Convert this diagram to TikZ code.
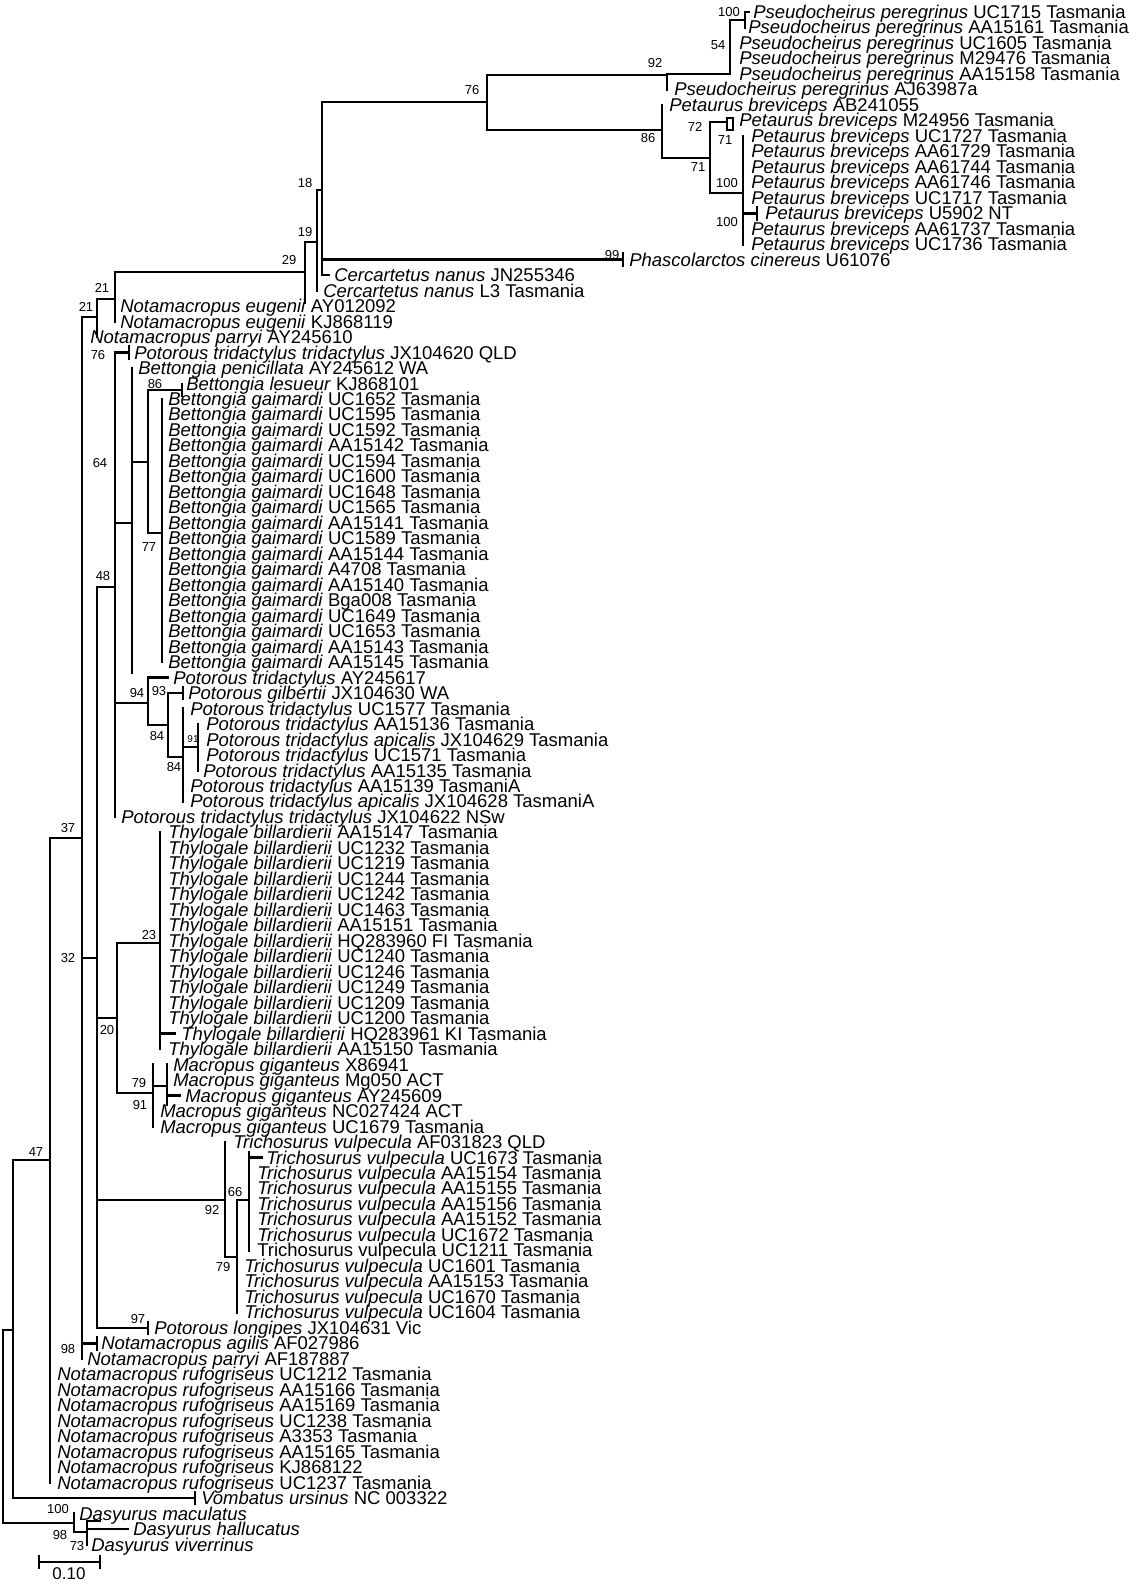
\documentclass[tikz,border=0pt]{standalone}
\usepackage{fontspec}
\setmainfont{Liberation Sans}
\newcommand\ry[1]{-3.48+#1*15.48}% row of leaf #1
\newcommand\lf[4]{\node[leaf] (l#1) at (#2,\ry{#1}) {\textit{#3} #4};}
\newcommand\tk[2]{\draw (#1,#2-6) -- (#1,#2+6);}
\tikzset{
  leaf/.style={anchor=base west,inner sep=0pt,yshift=-6.5pt,font=\fontsize{18.5}{18}\selectfont},
  bs/.style={inner sep=0pt,font=\fontsize{13}{13}\selectfont},
}
\begin{document}
\begin{tikzpicture}[x=1pt,y=-1pt,line width=2.6pt,line cap=rect]
  \useasboundingbox (0,0) rectangle (1148,1585);
  % leaves
  \lf{1}{752}{Pseudocheirus peregrinus}{UC1715 Tasmania}
  \lf{2}{747}{Pseudocheirus peregrinus}{AA15161 Tasmania}
  \lf{3}{738}{Pseudocheirus peregrinus}{UC1605 Tasmania}
  \lf{4}{738}{Pseudocheirus peregrinus}{M29476 Tasmania}
  \lf{5}{738}{Pseudocheirus peregrinus}{AA15158 Tasmania}
  \lf{6}{673}{Pseudocheirus peregrinus}{AJ63987a}
  \lf{7}{668}{Petaurus breviceps}{AB241055}
  \lf{8}{738}{Petaurus breviceps}{M24956 Tasmania}
  \lf{9}{750}{Petaurus breviceps}{UC1727 Tasmania}
  \lf{10}{750}{Petaurus breviceps}{AA61729 Tasmania}
  \lf{11}{750}{Petaurus breviceps}{AA61744 Tasmania}
  \lf{12}{750}{Petaurus breviceps}{AA61746 Tasmania}
  \lf{13}{750}{Petaurus breviceps}{UC1717 Tasmania}
  \lf{14}{764}{Petaurus breviceps}{U5902 NT}
  \lf{15}{750}{Petaurus breviceps}{AA61737 Tasmania}
  \lf{16}{750}{Petaurus breviceps}{UC1736 Tasmania}
  \lf{17}{628}{Phascolarctos cinereus}{U61076}
  \lf{18}{333}{Cercartetus nanus}{JN255346}
  \lf{19}{322}{Cercartetus nanus}{L3 Tasmania}
  \lf{20}{119}{Notamacropus eugenii}{AY012092}
  \lf{21}{119}{Notamacropus eugenii}{KJ868119}
  \lf{22}{89}{Notamacropus parryi}{AY245610}
  \lf{23}{133}{Potorous tridactylus tridactylus}{JX104620 QLD}
  \lf{24}{137}{Bettongia penicillata}{AY245612 WA}
  \lf{25}{185}{Bettongia lesueur}{KJ868101}
  \foreach \c [count=\i from 26] in {UC1652,UC1595,UC1592,AA15142,UC1594,UC1600,UC1648,UC1565,AA15141,UC1589,AA15144,A4708,AA15140,Bga008,UC1649,UC1653,AA15143,AA15145}
    {\lf{\i}{167}{Bettongia gaimardi}{\c\ Tasmania}}
  \lf{44}{172}{Potorous tridactylus}{AY245617}
  \lf{45}{187}{Potorous gilbertii}{JX104630 WA}
  \lf{46}{189}{Potorous tridactylus}{UC1577 Tasmania}
  \lf{47}{205}{Potorous tridactylus}{AA15136 Tasmania}
  \lf{48}{205}{Potorous tridactylus apicalis}{JX104629 Tasmania}
  \lf{49}{205}{Potorous tridactylus}{UC1571 Tasmania}
  \lf{50}{202}{Potorous tridactylus}{AA15135 Tasmania}
  \lf{51}{189}{Potorous tridactylus}{AA15139 TasmaniA}
  \lf{52}{189}{Potorous tridactylus apicalis}{JX104628 TasmaniA}
  \lf{53}{120}{Potorous tridactylus tridactylus}{JX104622 NSw}
  \foreach \c [count=\i from 54] in {AA15147 Tasmania,UC1232 Tasmania,UC1219 Tasmania,UC1244 Tasmania,UC1242 Tasmania,UC1463 Tasmania,AA15151 Tasmania,HQ283960 FI Tasmania,UC1240 Tasmania,UC1246 Tasmania,UC1249 Tasmania,UC1209 Tasmania,UC1200 Tasmania}
    {\lf{\i}{167}{Thylogale billardierii}{\c}}
  \lf{67}{180}{Thylogale billardierii}{HQ283961 KI Tasmania}
  \lf{68}{167}{Thylogale billardierii}{AA15150 Tasmania}
  \lf{69}{172}{Macropus giganteus}{X86941}
  \lf{70}{172}{Macropus giganteus}{Mg050 ACT}
  \lf{71}{184}{Macropus giganteus}{AY245609}
  \lf{72}{159}{Macropus giganteus}{NC027424 ACT}
  \lf{73}{159}{Macropus giganteus}{UC1679 Tasmania}
  \lf{74}{232}{Trichosurus vulpecula}{AF031823 QLD}
  \lf{75}{265}{Trichosurus vulpecula}{UC1673 Tasmania}
  \foreach \c [count=\i from 76] in {AA15154,AA15155,AA15156,AA15152,UC1672}
    {\lf{\i}{256}{Trichosurus vulpecula}{\c\ Tasmania}}
  \node[leaf] (l81) at (256,\ry{81}) {Trichosurus vulpecula UC1211 Tasmania};
  \foreach \c [count=\i from 82] in {UC1601,AA15153,UC1670,UC1604}
    {\lf{\i}{243}{Trichosurus vulpecula}{\c\ Tasmania}}
  \lf{86}{153}{Potorous longipes}{JX104631 Vic}
  \lf{87}{100}{Notamacropus agilis}{AF027986}
  \lf{88}{86}{Notamacropus parryi}{AF187887}
  \foreach \c [count=\i from 89] in {UC1212,AA15166,AA15169,UC1238,A3353,AA15165}
    {\lf{\i}{56}{Notamacropus rufogriseus}{\c\ Tasmania}}
  \lf{95}{56}{Notamacropus rufogriseus}{KJ868122}
  \lf{96}{56}{Notamacropus rufogriseus}{UC1237 Tasmania}
  \lf{97}{200}{Vombatus ursinus}{NC 003322}
  \lf{98}{78}{Dasyurus maculatus}{}
  \lf{99}{132}{Dasyurus hallucatus}{}
  \lf{100}{90}{Dasyurus viverrinus}{}
  % branches, root and outgroups
  \draw (13,1330) -- (3,1330) -- (3,1523) -- (74,1523);
  \draw (74,\ry{98}) -- (74,1532) -- (87,1532);
  \draw (87,1521) -- (87,\ry{100});
  \draw (87,1521) -- (100,1521);
  \draw (87,\ry{99}) -- (128,\ry{99});
  \draw (50,1160) -- (13,1160) -- (13,\ry{97}) -- (195,\ry{97}); \tk{195}{\ry{97}}
  \draw (82,838) -- (50,838) -- (50,\ry{96});
  \draw (82,317) -- (82,\ry{88});
  \draw (82,\ry{87}) -- (97,\ry{87}); \tk{97}{\ry{87}}
  \draw (82,958) -- (97,958);
  \draw (97,587) -- (97,\ry{86}) -- (148,\ry{86}); \tk{148}{\ry{86}}
  % upper clades
  \draw (82,317) -- (97,317);
  \draw (115,299) -- (97,299) -- (97,\ry{22});
  \draw (115,272) -- (115,\ry{21});
  \draw (115,272) -- (305,272);
  \draw (317,242) -- (305,242) -- (305,303);
  \draw (322,190) -- (317,190) -- (317,\ry{19});
  \draw (322,102) -- (322,\ry{18}) -- (329,\ry{18});
  \draw (322,\ry{17}) -- (623,\ry{17}); \tk{623}{\ry{17}}
  \draw (322,102) -- (487,102);
  \draw (667,75) -- (487,75) -- (487,130) -- (662,130);
  \draw (667,74) -- (667,\ry{6});
  \draw (667,74) -- (730,74) -- (730,20) -- (745,20);
  \draw (745,\ry{1}) -- (745,\ry{2}); \draw (745,\ry{1}) -- (749,\ry{1});
  \draw (662,\ry{7}) -- (662,158) -- (710,158);
  \draw (727,122) -- (710,122) -- (710,193) -- (743,193);
  \draw (733,118) -- (727,118) -- (727,130) -- (733,130); \tk{733}{124}
  \draw (743,\ry{9}) -- (743,\ry{16});
  \draw (743,\ry{14}) -- (757,\ry{14}); \tk{757}{\ry{14}}
  % kangaroos and potoroos
  \draw (97,587) -- (115,587);
  \draw (115,\ry{23}) -- (115,\ry{53});
  \draw (115,\ry{23}) -- (129,\ry{23}); \tk{129}{\ry{23}}
  \draw (115,523) -- (132,523);
  \draw (132,\ry{24}) -- (132,673);
  \draw (132,462) -- (148,462);
  \draw (182,390) -- (148,390) -- (148,533) -- (162,533); \tk{182}{390}
  \draw (162,\ry{26}) -- (162,\ry{43});
  \draw (115,703) -- (148,703);
  \draw (168,\ry{44}) -- (148,\ry{44}) -- (148,725) -- (168,725);
  \draw (183,\ry{45}) -- (168,\ry{45}) -- (168,757) -- (183,757); \tk{183}{\ry{45}}
  \draw (183,\ry{46}) -- (183,\ry{52});
  \draw (183,747) -- (198,747);
  \draw (198,\ry{47}) -- (198,\ry{50});
  \draw (97,1018) -- (117,1018);
  \draw (160,943) -- (117,943) -- (117,1093) -- (153,1093);
  \draw (160,\ry{54}) -- (160,\ry{68});
  \draw (160,\ry{67}) -- (175,\ry{67});
  \draw (153,\ry{69}) -- (153,\ry{73});
  \draw (153,1086) -- (167,1086);
  \draw (167,\ry{69}) -- (167,1105);
  \draw (167,\ry{71}) -- (180,\ry{71});
  \draw (97,1200) -- (225,1200);
  \draw (225,\ry{74}) -- (225,1257) -- (237,1257);
  \draw (237,1200) -- (237,\ry{85});
  \draw (237,1200) -- (249,1200);
  \draw (249,1152) -- (249,\ry{81});
  \draw (249,\ry{75}) -- (262,\ry{75});
  % bootstrap values
  \foreach \v/\x/\y in {100/729/12,54/718/45,92/655/63,76/472/90,86/648/138,72/695/127,71/725/140,71/698/167,100/727/183,100/727/222,99/612/255,18/305/183,19/305/232,29/289/260,21/102/288,21/86/307,76/98/355,86/155/384,64/100/463,77/149/547,48/103/576,94/137/693,93/159/691,84/157/736,84/174/767,37/68/828,32/68/958,23/149/935,20/107/1030,79/139/1083,91/140/1105,66/235/1192,92/212/1210,79/223/1267,47/36/1152,97/138/1319,98/68/1349,100/58/1509,98/60/1535,73/77/1546}
    \node[bs] at (\x,\y) {\v};
  \node[bs,font=\fontsize{10}{10}\selectfont] at (193,739) {91};
  % scale bar
  \draw (39,1562) -- (100,1562); \tk{39}{1562} \tk{100}{1562}
  \node[bs,font=\fontsize{17}{17}\selectfont] (scale) at (69,1574) {0.10};
\end{tikzpicture}
\end{document}
